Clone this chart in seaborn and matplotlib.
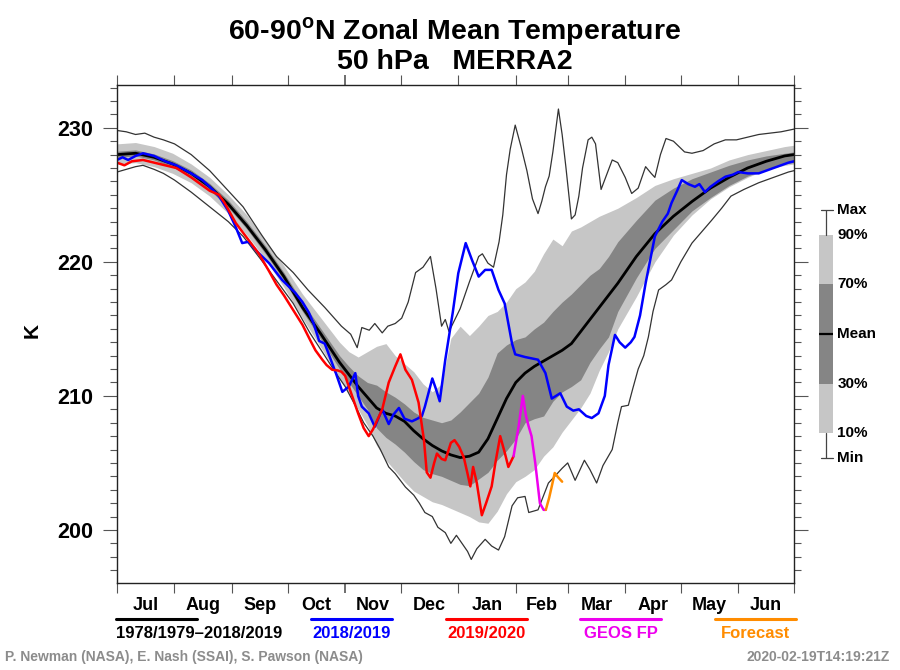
import matplotlib
matplotlib.use("Agg")
import matplotlib.pyplot as plt
from matplotlib.lines import Line2D
import seaborn as sns

# ---- data (days since 1 July) ----
clim_day = [0, 10, 20, 30, 40, 50, 60, 70, 80, 90, 100, 110, 120, 125, 130, 135, 140, 145,
            150, 155, 160, 165, 170, 175, 180, 185, 190, 195, 200, 205, 210, 215, 220, 225,
            230, 235, 240, 245, 250, 255, 260, 265, 270, 280, 290, 300, 310, 320, 330, 340,
            350, 360, 365]
clim_mean = [228.0, 228.1, 227.8, 227.3, 226.6, 225.6, 224.3, 222.7, 220.9, 218.9, 216.6,
             214.6, 212.5, 211.6, 210.7, 209.9, 209.1, 208.7, 208.5, 208.1, 207.4, 206.8,
             206.3, 205.9, 205.6, 205.4, 205.5, 205.8, 206.8, 208.3, 209.8, 211.0, 211.7,
             212.2, 212.6, 213.0, 213.4, 213.9, 214.8, 215.7, 216.6, 217.5, 218.4, 220.4,
             222.1, 223.4, 224.5, 225.5, 226.3, 227.0, 227.5, 227.9, 228.0]
clim_p10 = [227.3, 227.4, 227.1, 226.6, 225.9, 224.9, 223.6, 222.0, 220.2, 218.1, 215.8,
            213.6, 211.3, 210.2, 209.0, 207.8, 206.3, 205.2, 204.4, 203.6, 202.9, 202.5,
            202.1, 201.9, 201.6, 201.3, 201.0, 200.6, 200.5, 201.4, 202.7, 203.6, 204.0,
            204.5, 205.5, 206.2, 207.3, 208.2, 209.1, 210.2, 211.9, 213.3, 215.0, 217.4,
            220.0, 222.0, 223.5, 224.7, 225.6, 226.3, 226.9, 227.2, 227.3]
clim_p30 = [227.8, 227.9, 227.6, 227.05, 226.35, 225.35, 224.05, 222.45, 220.6, 218.6,
            216.3, 214.2, 212.0, 211.0, 210.0, 209.0, 207.6, 206.9, 206.4, 205.8, 205.1,
            204.5, 204.2, 204.0, 203.7, 203.4, 203.3, 203.8, 204.3, 205.2, 205.9, 206.8,
            208.0, 208.3, 208.5, 209.6, 210.3, 210.7, 211.2, 212.5, 213.5, 214.4, 216.3,
            218.8, 221.0, 222.4, 223.8, 224.8, 225.7, 226.4, 226.9, 227.3, 227.4]
clim_p70 = [228.25, 228.35, 228.05, 227.55, 226.85, 225.85, 224.6, 223.0, 221.2, 219.2,
            217.0, 215.0, 213.0, 212.2, 211.5, 211.0, 210.8, 210.3, 209.9, 209.4, 208.8,
            208.4, 208.2, 208.0, 208.2, 208.8, 209.5, 210.2, 211.4, 213.2, 213.8, 214.2,
            214.4, 215.0, 215.5, 216.3, 217.0, 217.6, 218.3, 219.0, 219.5, 220.4, 221.5,
            223.1, 224.6, 225.5, 226.2, 226.7, 227.2, 227.6, 227.9, 228.1, 228.2]
clim_p90 = [228.8, 228.9, 228.6, 228.1, 227.3, 226.3, 225.0, 223.5, 221.6, 219.7, 217.6,
            215.8, 214.0, 213.3, 212.9, 213.3, 213.7, 213.9, 213.0, 212.4, 211.8, 210.9,
            210.3, 210.9, 214.3, 215.2, 214.5, 215.2, 216.0, 216.3, 217.0, 218.0, 218.5,
            219.3, 220.6, 221.7, 221.2, 222.3, 222.6, 223.0, 223.4, 223.7, 224.0, 224.8,
            225.7, 226.2, 226.6, 227.0, 227.6, 228.0, 228.3, 228.6, 228.7]

max_day = [0, 5, 10, 15, 20, 25, 31, 40, 50, 60, 68, 78, 86, 95, 103, 112, 121, 126, 129.5,
           132, 136, 139, 143, 146, 150, 153.5, 157, 161, 165, 169, 172, 175, 177, 179, 185,
           190, 195, 197, 200, 203, 206, 208, 210, 212, 214.7, 218, 221, 224, 227, 229, 231,
           233, 235, 238, 240, 242, 245, 247, 249, 251, 254, 256, 258, 261, 264, 267, 270,
           274, 277.5, 281, 285, 288, 290, 293, 296, 300, 306, 310, 316, 322, 328, 334, 340,
           346, 352, 358, 365]
max_val = [229.8, 229.7, 229.5, 229.6, 229.3, 229.1, 228.8, 228.0, 226.8, 225.3, 224.1,
           222.0, 220.4, 219.2, 217.9, 216.6, 215.2, 214.6, 213.6, 215.1, 214.9, 215.4,
           214.7, 215.2, 215.4, 215.8, 217.0, 219.2, 219.6, 220.4, 218.0, 215.2, 215.7,
           214.8, 216.5, 218.5, 220.4, 220.6, 219.9, 219.6, 221.5, 223.5, 226.5, 228.4,
           230.2, 228.5, 226.8, 224.7, 223.6, 224.5, 225.6, 226.4, 228.2, 231.4, 229.5,
           227.1, 223.2, 223.5, 224.9, 227.0, 229.1, 229.3, 228.8, 225.4, 226.5, 227.6,
           227.4, 226.3, 225.1, 225.5, 227.1, 226.6, 226.3, 228.0, 229.2, 229.0, 228.2,
           228.1, 228.3, 228.8, 229.1, 229.1, 229.3, 229.5, 229.6, 229.7, 229.9]

min_day = [0, 5, 10, 14, 20, 25, 31, 40, 50, 60, 68, 78, 86, 95, 104, 112, 118, 123, 128,
           133, 138, 142, 146.5, 150, 155.5, 160, 163, 166, 170, 173, 177, 180, 183, 186,
           189, 191, 194, 198.5, 202, 205.7, 209, 213, 216, 220, 222, 227, 232.6, 236, 240,
           243, 247, 250, 252, 255, 258.6, 262, 267, 270, 272, 275.7, 278, 281, 284, 286.5,
           289, 292, 296, 299, 304, 310, 315, 320.6, 326, 331, 338, 346, 354, 362, 365]
min_val = [226.7, 226.9, 227.1, 227.2, 226.9, 226.6, 226.1, 225.2, 224.1, 223.0, 221.9,
           220.1, 218.6, 216.9, 214.7, 213.0, 211.7, 210.7, 209.4, 208.0, 207.0, 206.0,
           204.7, 204.2, 203.2, 202.6, 202.0, 201.3, 201.0, 200.2, 199.8, 199.0, 199.6,
           199.0, 198.4, 197.8, 198.6, 199.3, 198.8, 198.5, 199.5, 201.8, 202.4, 202.5,
           201.3, 201.5, 203.5, 204.0, 204.6, 205.0, 203.7, 204.6, 205.2, 204.5, 203.5,
           204.8, 206.0, 208.0, 209.2, 209.3, 210.5, 212.0, 213.0, 214.4, 216.3, 217.9,
           218.3, 218.65, 220.0, 221.4, 222.2, 223.1, 224.0, 224.9, 225.4, 225.9, 226.3,
           226.7, 226.8]

y1819_day = [0, 3, 6, 10, 14, 20, 26, 32, 40, 46, 50, 55, 60, 64, 67.5, 71, 76, 82, 89, 96,
             100, 103.5, 106, 109, 112, 115, 118, 121.5, 125, 128.5, 130, 132, 135.7, 139,
             143, 146.5, 149, 152, 155, 159, 162, 164.4, 166, 170, 172, 174, 177, 181, 184,
             188, 191.5, 195, 198.5, 202, 205.7, 209, 213, 214.7, 220, 227, 231, 234.4, 239,
             242.5, 246, 249, 253, 256, 259.6, 263, 265, 268.5, 271, 274, 277, 279, 282, 285,
             288, 290, 294, 297, 299, 302, 304.5, 308, 311.6, 314, 317, 320, 324, 328, 332,
             335, 340, 346, 352, 358, 362, 365]
y1819_val = [227.6, 227.8, 227.6, 227.9, 228.1, 227.9, 227.5, 227.2, 226.6, 226.1, 225.6,
             224.9, 223.8, 222.6, 221.4, 221.5, 220.7, 219.9, 218.65, 217.7, 217.0, 216.2,
             215.4, 214.1, 213.9, 212.8, 211.7, 210.3, 210.7, 211.7, 210.0, 209.2, 208.7,
             207.7, 209.0, 207.9, 208.6, 209.1, 208.3, 208.1, 208.3, 208.5, 209.2, 211.3,
             210.5, 209.6, 212.7, 216.2, 219.15, 221.4, 220.1, 218.9, 219.4, 219.4, 217.9,
             216.9, 213.9, 213.1, 212.9, 212.7, 211.7, 209.8, 210.2, 209.2, 208.9, 209.0,
             208.5, 208.35, 208.7, 210.0, 212.3, 214.55, 214.0, 213.6, 214.0, 214.4, 216.0,
             218.4, 220.5, 221.9, 223.0, 223.6, 224.4, 225.3, 226.1, 225.8, 225.6, 225.8,
             225.2, 225.6, 226.0, 226.35, 226.5, 226.7, 226.6, 226.6, 226.9, 227.2, 227.4,
             227.5]

y1920_day = [0, 4, 8, 14, 20, 26, 32, 40, 46, 50, 55, 58, 64, 70, 76.5, 82, 86, 90, 95, 100,
             104, 107, 110.7, 113, 116, 119, 121, 123, 126, 130, 133, 135.7, 138, 141, 143,
             146.5, 150, 152.8, 155.5, 159, 162.6, 165.5, 167, 169, 171, 172.5, 175, 177,
             180, 182, 184.5, 187, 189, 190.5, 192, 194, 196.7, 199, 202, 204, 206.6, 209,
             211, 213.8]
y1920_val = [227.4, 227.2, 227.5, 227.6, 227.4, 227.2, 227.0, 226.3, 225.7, 225.3, 225.0,
             224.4, 222.9, 221.8, 220.6, 219.3, 218.3, 217.5, 216.4, 215.3, 214.2, 213.4,
             212.7, 212.3, 211.95, 211.9, 211.8, 211.5, 210.3, 208.7, 207.6, 207.0, 207.5,
             208.4, 209.0, 211.0, 212.2, 213.1, 211.95, 211.2, 209.5, 206.7, 204.3, 203.9,
             205.0, 205.7, 205.3, 205.2, 206.5, 206.7, 206.2, 205.4, 204.2, 203.25, 204.7,
             203.5, 201.1, 202.0, 203.25, 205.0, 207.0, 205.8, 204.7, 205.5]

geos_day = [213.8, 216.5, 218.8, 220.5, 222, 223.5, 225.5, 228, 230, 231.2]
geos_val = [205.5, 207.7, 210.0, 208.5, 207.7, 207.0, 205.0, 202.0, 201.5, 201.5]

fcst_day = [231.2, 233, 234.4, 236, 238, 240]
fcst_val = [201.5, 202.4, 203.25, 204.25, 203.9, 203.6]

month_start = [0, 31, 62, 92, 123, 153, 184, 215, 243, 274, 304, 335, 365]
month_names = ['Jul', 'Aug', 'Sep', 'Oct', 'Nov', 'Dec', 'Jan', 'Feb', 'Mar', 'Apr', 'May', 'Jun']

key_levels = [0.0, 0.1, 0.3, 0.5, 0.7, 0.9, 1.0]
key_labels = ['Min', '10%', '30%', 'Mean', '70%', '90%', 'Max']

legend_names = ['1978/1979\u20132018/2019', '2018/2019', '2019/2020', 'GEOS FP', 'Forecast']
legend_colors = ['black', '#0000ff', '#ff0000', '#ee00ee', '#ff8c00']

LIGHT = '#c6c6c6'
DARK = '#858585'
THIN = '#333333'
TICK = '#555555'

sns.set_theme(style="ticks")
plt.rcParams['font.family'] = ['Liberation Sans', 'DejaVu Sans']
plt.rcParams['font.weight'] = 'bold'
plt.rcParams['mathtext.fontset'] = 'custom'
plt.rcParams['mathtext.rm'] = 'Liberation Sans:bold'
plt.rcParams['text.color'] = 'black'
plt.rcParams['xtick.labelcolor'] = 'black'
plt.rcParams['ytick.labelcolor'] = 'black'

fig = plt.figure(figsize=(9, 6.7), dpi=100)
ax = fig.add_axes([0.13, 0.13, 0.7522, 0.7433])

# percentile bands
ax.fill_between(clim_day, clim_p10, clim_p90, color=LIGHT, lw=0)
ax.fill_between(clim_day, clim_p30, clim_p70, color=DARK, lw=0)

sns.lineplot(x=max_day, y=max_val, ax=ax, color=THIN, lw=0.9, errorbar=None)
sns.lineplot(x=min_day, y=min_val, ax=ax, color=THIN, lw=0.9, errorbar=None)
sns.lineplot(x=clim_day, y=clim_mean, ax=ax, color='black', lw=2.0, errorbar=None)
sns.lineplot(x=y1819_day, y=y1819_val, ax=ax, color=legend_colors[1], lw=1.8, errorbar=None)
sns.lineplot(x=y1920_day, y=y1920_val, ax=ax, color=legend_colors[2], lw=1.8, errorbar=None)
sns.lineplot(x=geos_day, y=geos_val, ax=ax, color=legend_colors[3], lw=1.8, errorbar=None)
sns.lineplot(x=fcst_day, y=fcst_val, ax=ax, color=legend_colors[4], lw=1.8, errorbar=None)

ax.set_xlim(0, 365)
ax.set_ylim(196.05, 233.2)
ax.set_xlabel('')
ax.set_ylabel('')

# axes ticks
ax.set_xticks(month_start)
ax.set_xticklabels([])
mids = [(a + b) / 2 for a, b in zip(month_start[:-1], month_start[1:])]
ax.set_xticks(mids, minor=True)
ax.set_xticklabels(month_names, minor=True)
ax.set_yticks([200, 210, 220, 230])
ax.set_yticks(range(197, 234), minor=True)

ax.tick_params(axis='both', which='both', direction='out', top=True, right=True,
               color=TICK, width=0.8)
ax.tick_params(axis='x', which='major', length=7, labelbottom=False)
ax.tick_params(axis='x', which='minor', length=0, labelsize=13, pad=10)
ax.tick_params(axis='y', which='major', length=10, labelsize=15.5, pad=7)
ax.tick_params(axis='y', which='minor', length=5)
for lab in ax.get_xticklabels(minor=True) + ax.get_yticklabels():
    lab.set_fontweight('bold')
nov = month_names.index('Nov')
for i, t in enumerate(ax.xaxis.get_major_ticks()):
    if i == nov:
        for tl in (t.tick1line, t.tick2line):
            tl.set_color('black')
            tl.set_markeredgewidth(1.2)
for sp in ax.spines.values():
    sp.set_color('#222222')
    sp.set_linewidth(1.0)

# titles and labels
fig.text(0.505, 1 - 15 / 670,
         '60-90$^{\\mathrm{o}}$N Zonal Mean Temperature\n50 hPa   MERRA2',
         ha='center', va='top', fontsize=20.5, fontweight='bold', linespacing=1.08,
         multialignment='center')
fig.text(32 / 900, 1 - 330 / 670, 'K', rotation=90, ha='center', va='center',
         fontsize=15, fontweight='bold')

# shading key on the right
kax = fig.add_axes([819 / 900, 1 - 458 / 670, 14 / 900, 248 / 670])
kax.set_xlim(0, 1)
kax.set_ylim(0, 1)
kax.axis('off')
kax.fill_between([0, 1], key_levels[1], key_levels[5], color=LIGHT, lw=0)
kax.fill_between([0, 1], key_levels[2], key_levels[4], color=DARK, lw=0)
kax.plot([0, 1], [key_levels[3]] * 2, color='black', lw=1.6)
kax.plot([0.5, 0.5], [key_levels[0], key_levels[1]], color='#444444', lw=0.9)
kax.plot([0.5, 0.5], [key_levels[5], key_levels[6]], color='#444444', lw=0.9)
kax.plot([0.15, 1], [key_levels[0]] * 2, color='#444444', lw=0.9, clip_on=False)
kax.plot([0.15, 1], [key_levels[6]] * 2, color='#444444', lw=0.9, clip_on=False)
for lv, lb in zip(key_levels, key_labels):
    kax.text(1.3, lv, lb, ha='left', va='center', fontsize=11, fontweight='bold',
             transform=kax.transAxes, clip_on=False)

# series legend under the axes
leg_x = [(116, 197), (311, 392), (446, 527), (580, 661), (715, 796)]
for (x0, x1), name, col in zip(leg_x, legend_names, legend_colors):
    fig.add_artist(Line2D([x0 / 900, x1 / 900], [1 - 619 / 670] * 2, color=col, lw=2.2,
                          transform=fig.transFigure))
    if name == legend_names[0]:
        fig.text(x0 / 900, 1 - 633 / 670, name, ha='left', va='center', color=col,
                 fontsize=12, fontweight='bold')
    else:
        fig.text((x0 + x1) / 1800, 1 - 633 / 670, name, ha='center', va='center',
                 color=col, fontsize=12, fontweight='bold')

fig.text(5 / 900, 1 - 657 / 670, 'P. Newman (NASA), E. Nash (SSAI), S. Pawson (NASA)',
         ha='left', va='center', color='#8c8c8c', fontsize=10, fontweight='bold')
fig.text(890 / 900, 1 - 657 / 670, '2020-02-19T14:19:21Z', ha='right', va='center',
         color='#8c8c8c', fontsize=10, fontweight='bold')

fig.savefig('out.png', dpi=100, facecolor='white')
